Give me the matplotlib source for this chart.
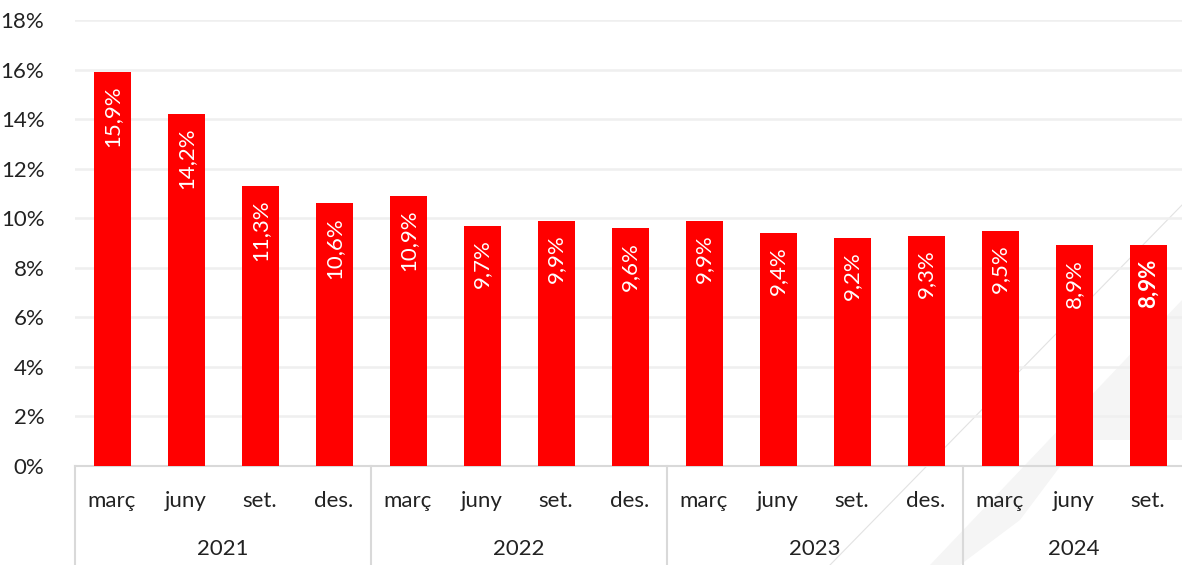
import numpy as np
import matplotlib.pyplot as plt
from matplotlib.transforms import blended_transform_factory
from matplotlib.patches import Polygon

plt.rcParams['font.family'] = ['Lato', 'DejaVu Sans']

months = ['març', 'juny', 'set.', 'des.'] * 3 + ['març', 'juny', 'set.']
years = ['2021', '2022', '2023', '2024']
year_sizes = [4, 4, 4, 3]
values = [15.9, 14.2, 11.3, 10.6, 10.9, 9.7, 9.9, 9.6, 9.9, 9.4, 9.2, 9.3, 9.5, 8.9, 8.9]
labels = ['15,9%', '14,2%', '11,3%', '10,6%', '10,9%', '9,7%', '9,9%', '9,6%',
          '9,9%', '9,4%', '9,2%', '9,3%', '9,5%', '8,9%', '8,9%']

red = '#ff0000'
grid_c = '#efefef'
line_c = '#d9d9d9'

fig = plt.figure(figsize=(11.82, 5.65), dpi=100)

# faint watermark in the lower right corner
wm = fig.add_axes([0, 0, 1, 1], zorder=-1)
wm.set_xlim(0, 1182)
wm.set_ylim(565, 0)
wm.axis('off')
wm.plot([830, 1182], [565, 205], color='#e2e2e2', lw=0.8)
wm.add_patch(Polygon([[930, 565], [1182, 300], [1182, 440], [1080, 440], [1020, 520], [960, 565]],
                     closed=True, color='#f5f5f5', lw=0))

ax = fig.add_axes([75 / 1182, 99 / 565, 1110 / 1182, 446 / 565])
ax.patch.set_alpha(0)
x = np.arange(len(values))
ax.bar(x, values, width=0.5, color=red, zorder=3)

for i, (v, lab) in enumerate(zip(values, labels)):
    bold = i == len(values) - 1
    ax.text(i, v - 0.55, lab, rotation=90, ha='center', va='top', color='white',
            fontsize=16, fontweight='bold' if bold else 'normal', zorder=4)

ax.set_xlim(-0.5, 14.5)
ax.set_ylim(0, 18)
ax.set_yticks(np.arange(0, 19, 2))
ax.set_yticklabels([f'{t}%' for t in range(0, 19, 2)], fontsize=16, color='#222222')
ax.tick_params(axis='y', length=0, pad=22)
ax.yaxis.grid(True, color=grid_c, lw=1.8, zorder=0)
ax.set_xticks([])
for s in ['top', 'right', 'left']:
    ax.spines[s].set_visible(False)
ax.spines['bottom'].set_color(line_c)
ax.spines['bottom'].set_linewidth(1.5)

# two-level category axis
tr = blended_transform_factory(ax.transData, ax.transAxes)
for i, m in enumerate(months):
    ax.text(i, -0.078, m, transform=tr, ha='center', va='center', fontsize=16, color='#222222')

start = 0
bounds = [-0.5]
for yr, n in zip(years, year_sizes):
    mid = start + (n - 1) / 2
    ax.text(mid, -0.185, yr, transform=tr, ha='center', va='center', fontsize=16, color='#222222')
    start += n
    bounds.append(start - 0.5)
for b in bounds:
    ax.plot([b, b], [0, -0.23], transform=tr, color=line_c, lw=1.5, clip_on=False)

fig.savefig('out.png', dpi=100)
